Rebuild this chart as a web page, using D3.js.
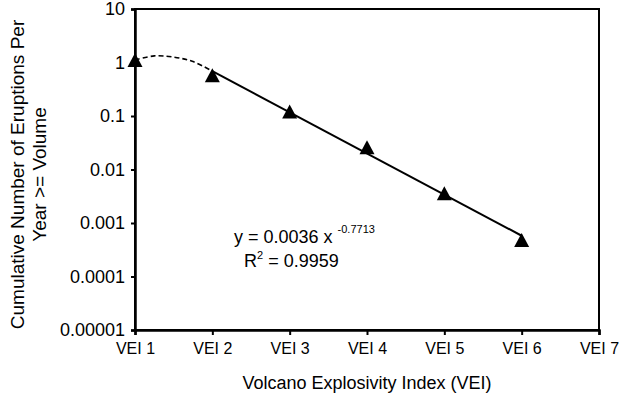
<!DOCTYPE html>
<html>
<head>
<meta charset="utf-8">
<script src="https://cdn.jsdelivr.net/npm/d3@7"></script>
<style>
  body { margin: 0; background: #fff; }
  text { font-family: Arial, "Liberation Sans", sans-serif; fill: #000; }
</style>
</head>
<body>
<div id="chart"></div>
<script>
// values
const vei = [1, 2, 3, 4, 5, 6];
const eruptionsPerYear = [1.11, 0.58, 0.121, 0.026, 0.0036, 0.00048];
const xTickValues = [1, 2, 3, 4, 5, 6, 7];
const xTickLabels = ['VEI 1', 'VEI 2', 'VEI 3', 'VEI 4', 'VEI 5', 'VEI 6', 'VEI 7'];
const yTickValues = [1e-5, 1e-4, 1e-3, 1e-2, 1e-1, 1, 10];
const yTickLabels = ['0.00001', '0.0001', '0.001', '0.01', '0.1', '1', '10'];
// hand-drawn dashed bend between VEI 1 and VEI 2
const dashX = [1, 1.25, 1.5, 1.75, 2];
const dashY = [1.11, 1.33, 1.26, 1.04, 0.69];

const margin = {top: 9, right: 31, bottom: 69, left: 135},
    width = 630 - margin.left - margin.right,
    height = 399 - margin.top - margin.bottom;

const svg = d3.select('#chart')
    .append('svg')
    .attr('width', 630)
    .attr('height', 399)
    .append('g')
    .attr('transform', `translate(${margin.left},${margin.top})`);

const xScale = d3.scaleLinear().domain([1, 7]).range([0, width]);
const yScale = d3.scaleLog().domain([1e-5, 10]).range([height, 0]);

// plot frame (top and right)
svg.append('rect')
    .attr('width', width)
    .attr('height', height)
    .attr('fill', 'none')
    .attr('stroke', '#000')
    .attr('stroke-width', 2);

const yAxis = svg.append('g')
    .call(d3.axisLeft(yScale)
        .tickValues(yTickValues)
        .tickFormat((d, i) => yTickLabels[i])
        .tickSize(4)
        .tickPadding(6));

const xAxis = svg.append('g')
    .attr('transform', `translate(0,${height})`)
    .call(d3.axisBottom(xScale)
        .tickValues(xTickValues)
        .tickFormat((d, i) => xTickLabels[i])
        .tickSize(5)
        .tickPadding(8));

[yAxis, xAxis].forEach(a => {
    a.select('.domain').attr('stroke-width', 2.5);
    a.selectAll('.tick line').attr('stroke-width', 2);
});
yAxis.selectAll('.tick text').style('font-size', '18px');
xAxis.selectAll('.tick text').style('font-size', '16px');

// least squares fit in log space over VEI 2..6
const fx = vei.slice(1), fy = eruptionsPerYear.slice(1).map(Math.log10);
const mx = d3.mean(fx), my = d3.mean(fy);
const slope = d3.sum(fx, (d, i) => (d - mx) * (fy[i] - my)) / d3.sum(fx, d => (d - mx) * (d - mx));
const icpt = my - slope * mx;

svg.append('path')
    .datum([2, 6])
    .attr('fill', 'none')
    .attr('stroke', '#000')
    .attr('stroke-width', 2)
    .attr('d', d3.line()
        .x(d => xScale(d))
        .y(d => yScale(Math.pow(10, icpt + slope * d))));

svg.append('path')
    .datum(dashX.map((d, i) => [d, dashY[i]]))
    .attr('fill', 'none')
    .attr('stroke', '#000')
    .attr('stroke-width', 1.6)
    .attr('stroke-dasharray', '5,3')
    .attr('d', d3.line()
        .curve(d3.curveCardinal)
        .x(d => xScale(d[0]))
        .y(d => yScale(d[1])));

svg.selectAll('.pt')
    .data(vei)
    .enter()
    .append('path')
    .attr('class', 'pt')
    .attr('transform', (d, i) => `translate(${xScale(d)},${yScale(eruptionsPerYear[i])})`)
    .attr('d', 'M0,-7L7.5,7L-7.5,7Z')
    .attr('fill', '#000');

// equation label
const eq = svg.append('text')
    .attr('x', 99)
    .attr('y', 234)
    .style('font-size', '18px');
eq.append('tspan').text('y = 0.0036 x ');
eq.append('tspan').attr('dy', -10).style('font-size', '11px').text('-0.7713');

const r2 = svg.append('text')
    .attr('x', 109)
    .attr('y', 258)
    .style('font-size', '18px');
r2.append('tspan').text('R');
r2.append('tspan').attr('dy', -8).style('font-size', '11px').text('2');
r2.append('tspan').attr('dy', 8).text(' = 0.9959');

// axis titles
svg.append('text')
    .attr('x', width / 2)
    .attr('y', height + 59)
    .attr('text-anchor', 'middle')
    .style('font-size', '18px')
    .text('Volcano Explosivity Index (VEI)');

const yt = svg.append('text')
    .attr('transform', `translate(${-margin.left + 24},${height / 2 + 5}) rotate(-90)`)
    .attr('text-anchor', 'middle')
    .style('font-size', '19px');
yt.append('tspan').attr('x', 0).text('Cumulative Number of Eruptions Per');
yt.append('tspan').attr('x', 0).attr('dy', 22).text('Year >= Volume');
</script>
</body>
</html>
